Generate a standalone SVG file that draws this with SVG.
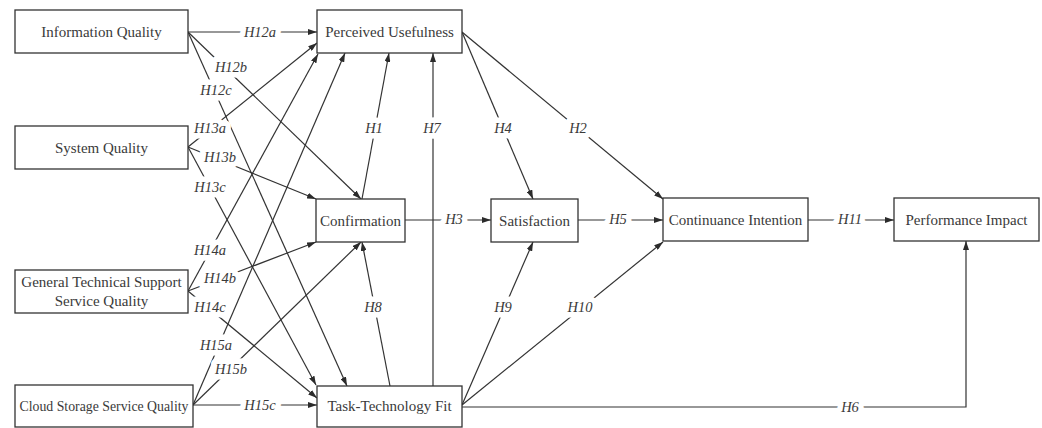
<svg xmlns="http://www.w3.org/2000/svg" width="1042" height="428" viewBox="0 0 1042 428">
  <style>
    .box { fill: #ffffff; stroke: #333333; stroke-width: 1.3; }
    .name { font-family: "Liberation Serif", "Times New Roman", serif; font-size: 15px; fill: #3a3a3a; text-anchor: middle; dominant-baseline: central; }
    .small { font-size: 13.8px; }
    .edge { fill: none; stroke: #333333; stroke-width: 1.2; marker-end: url(#arrow); }
    .hyp { font-family: "Liberation Serif", "Times New Roman", serif; font-style: italic; font-size: 14.5px; fill: #3a3a3a; text-anchor: middle; dominant-baseline: central; stroke: #ffffff; stroke-width: 11; stroke-linejoin: round; paint-order: stroke; }
  </style>
  <defs>
    <marker id="arrow" markerUnits="userSpaceOnUse" markerWidth="9" markerHeight="6" refX="9" refY="3" orient="auto">
      <path d="M0,0 L9,3 L0,6 Z" fill="#2b2b2b"/>
    </marker>
  </defs>
  <rect width="1042" height="428" fill="#ffffff"/>

  <!-- connectors -->
  <g id="connectors">
    <path class="edge" d="M188,32 L317,32"/>
    <path class="edge" d="M188,32 L361,199"/>
    <path class="edge" d="M188,32 L347,386"/>
    <path class="edge" d="M188,147 L317,43"/>
    <path class="edge" d="M188,147 L316,199"/>
    <path class="edge" d="M188,147 L316,385"/>
    <path class="edge" d="M188,291 L318,54"/>
    <path class="edge" d="M188,291 L316,242"/>
    <path class="edge" d="M188,291 L317,398"/>
    <path class="edge" d="M193,405 L345,53"/>
    <path class="edge" d="M193,405 L361,242"/>
    <path class="edge" d="M193,405 L317,405"/>
    <path class="edge" d="M362,199 L389,53"/>
    <path class="edge" d="M433,386 L433,53"/>
    <path class="edge" d="M390,386 L362,242"/>
    <path class="edge" d="M405,220 L491,220"/>
    <path class="edge" d="M462,32 L533,199"/>
    <path class="edge" d="M462,32 L663,199"/>
    <path class="edge" d="M578,220 L663,220"/>
    <path class="edge" d="M462,405 L533,242"/>
    <path class="edge" d="M462,405 L663,242"/>
    <path class="edge" d="M808,220 L894,220"/>
    <path class="edge" d="M462,407 L966,407 L966,241"/>

    <!-- hypothesis labels -->
    <text class="hyp" x="260" y="32">H12a</text>
    <text class="hyp" x="231" y="67">H12b</text>
    <text class="hyp" x="216" y="90">H12c</text>
    <text class="hyp" x="210" y="128">H13a</text>
    <text class="hyp" x="220" y="157">H13b</text>
    <text class="hyp" x="210" y="187">H13c</text>
    <text class="hyp" x="210" y="250">H14a</text>
    <text class="hyp" x="220" y="278">H14b</text>
    <text class="hyp" x="210" y="307">H14c</text>
    <text class="hyp" x="216" y="345">H15a</text>
    <text class="hyp" x="231" y="369">H15b</text>
    <text class="hyp" x="260" y="405">H15c</text>
    <text class="hyp" x="374" y="128">H1</text>
    <text class="hyp" x="432" y="128">H7</text>
    <text class="hyp" x="503" y="128">H4</text>
    <text class="hyp" x="578" y="128">H2</text>
    <text class="hyp" x="454" y="219">H3</text>
    <text class="hyp" x="618" y="219">H5</text>
    <text class="hyp" x="373" y="307">H8</text>
    <text class="hyp" x="503" y="307">H9</text>
    <text class="hyp" x="580" y="307">H10</text>
    <text class="hyp" x="850" y="219">H11</text>
    <text class="hyp" x="850" y="407">H6</text>
  </g>

  <!-- constructs -->
  <g id="information-quality">
    <rect class="box" x="15" y="10" width="173" height="43"/>
    <text class="name" x="101.5" y="31.5">Information Quality</text>
  </g>
  <g id="system-quality">
    <rect class="box" x="15" y="126" width="173" height="43"/>
    <text class="name" x="101.5" y="147.5">System Quality</text>
  </g>
  <g id="general-technical-support">
    <rect class="box" x="15" y="270" width="173" height="43"/>
    <text class="name" x="101.5" y="282">General Technical Support</text>
    <text class="name" x="101.5" y="301">Service Quality</text>
  </g>
  <g id="cloud-storage-service-quality">
    <rect class="box" x="15" y="385" width="178" height="42"/>
    <text class="name small" x="104" y="406">Cloud Storage Service Quality</text>
  </g>
  <g id="perceived-usefulness">
    <rect class="box" x="317" y="10" width="145" height="43"/>
    <text class="name" x="389.5" y="31.5">Perceived Usefulness</text>
  </g>
  <g id="confirmation">
    <rect class="box" x="316" y="199" width="89" height="43"/>
    <text class="name" x="360.5" y="220.5">Confirmation</text>
  </g>
  <g id="satisfaction">
    <rect class="box" x="491" y="199" width="87" height="43"/>
    <text class="name" x="534.5" y="220.5">Satisfaction</text>
  </g>
  <g id="task-technology-fit">
    <rect class="box" x="317" y="386" width="145" height="41"/>
    <text class="name" x="389.5" y="406">Task-Technology Fit</text>
  </g>
  <g id="continuance-intention">
    <rect class="box" x="663" y="198" width="145" height="43"/>
    <text class="name" x="735.5" y="219.5">Continuance Intention</text>
  </g>
  <g id="performance-impact">
    <rect class="box" x="894" y="198" width="145" height="43"/>
    <text class="name" x="966.5" y="219.5">Performance Impact</text>
  </g>
</svg>
